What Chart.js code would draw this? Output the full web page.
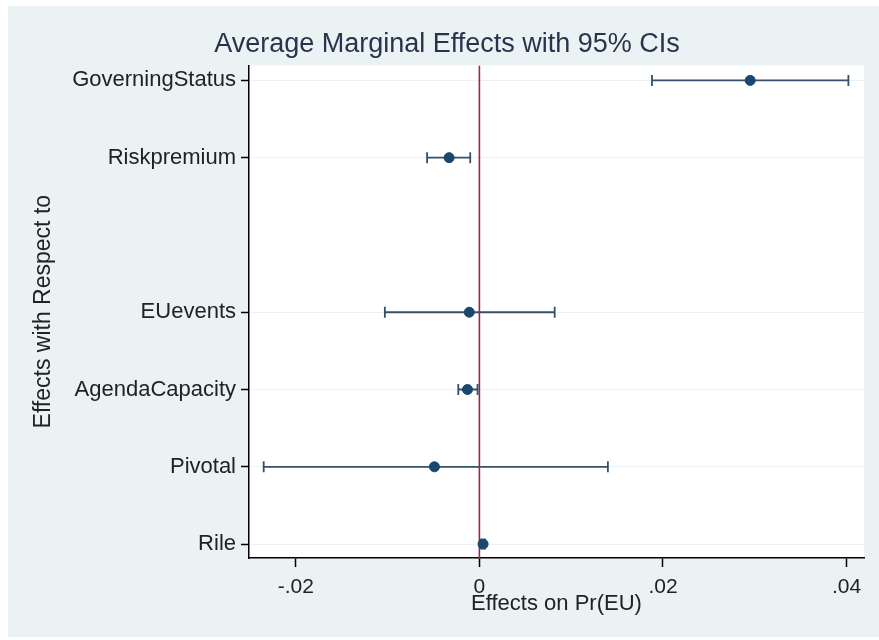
<!DOCTYPE html>
<html>
<head>
<meta charset="utf-8">
<script src="https://cdn.jsdelivr.net/npm/chart.js@4"></script>
<style>
  html, body { margin: 0; padding: 0; background: #fff; }
  #wrap { width: 879px; height: 640px; }
</style>
</head>
<body>
<div id="wrap"><canvas id="mfx"></canvas></div>
<script>
// marginal effects
const names = ['GoverningStatus', 'Riskpremium', 'EUevents', 'AgendaCapacity', 'Pivotal', 'Rile'];
const rowPos = [0, 1, 3, 4, 5, 6]; // row 2 is left empty
const effect = [0.0295, -0.0033, -0.0011, -0.0013, -0.0049, 0.0004];
const ciLow = [0.0188, -0.0057, -0.0103, -0.0023, -0.0235, 0.0002];
const ciHigh = [0.0402, -0.0010, 0.0082, -0.0002, 0.0140, 0.0006];
const xTicks = [-0.02, 0, 0.02, 0.04];

const navy = '#1a476f';
const ciColor = '#34506b';
const fontFam = '"Liberation Sans", Arial, sans-serif';

const yMin = -0.194, yMax = 6.18;

const datasets = [];
datasets.push({
    type: 'scatter',
    data: effect.map((v, i) => ({ x: v, y: rowPos[i] })),
    backgroundColor: navy,
    borderColor: navy,
    pointRadius: 5,
    pointHoverRadius: 5
});
names.forEach((n, i) => {
    datasets.push({
        type: 'line',
        data: [{ x: ciLow[i], y: rowPos[i] }, { x: ciHigh[i], y: rowPos[i] }],
        borderColor: ciColor,
        borderWidth: 1.8,
        pointStyle: 'line',
        rotation: 90,
        pointRadius: 5.5,
        pointBorderWidth: 1.8,
        pointBorderColor: ciColor
    });
});
// reference line at zero
datasets.push({
    type: 'line',
    data: [{ x: 0, y: yMin }, { x: 0, y: yMax }],
    borderColor: '#a3214c',
    borderWidth: 1.6,
    pointRadius: 0
});

const bgPlugin = {
    id: 'bg',
    beforeDraw(chart) {
        const c = chart.ctx, a = chart.chartArea;
        c.save();
        c.fillStyle = '#ffffff';
        c.fillRect(0, 0, chart.width, chart.height);
        c.fillStyle = '#eaf2f3';
        c.fillRect(8, 6, chart.width - 8, chart.height - 9);
        c.fillStyle = '#ffffff';
        c.fillRect(a.left, a.top, a.right - a.left, a.bottom - a.top);
        c.restore();
    }
};

function fmt(v) {
    if (v === 0) return '0';
    return String(v).replace('0.', '.');
}

new Chart(document.getElementById('mfx'), {
    data: { datasets: datasets },
    plugins: [bgPlugin],
    options: {
        responsive: true,
        maintainAspectRatio: false,
        animation: false,
        layout: { padding: { left: 30, right: 15, top: 0, bottom: 0 } },
        plugins: {
            legend: { display: false },
            tooltip: { enabled: false },
            title: {
                display: true,
                text: 'Average Marginal Effects with 95% CIs',
                color: '#27344c',
                font: { family: fontFam, size: 27, weight: 'normal' },
                padding: { top: 28, bottom: 5 }
            }
        },
        scales: {
            x: {
                type: 'linear',
                min: -0.0251,
                max: 0.0419,
                afterBuildTicks: s => { s.ticks = xTicks.map(v => ({ value: v })); },
                afterFit: s => { s.height = 82; },
                ticks: {
                    callback: v => fmt(v),
                    color: '#222',
                    font: { family: fontFam, size: 21 },
                    padding: 8,
                    maxRotation: 0
                },
                grid: { drawOnChartArea: false, tickLength: 9, tickColor: '#000', tickWidth: 1.5 },
                border: { color: '#000', width: 1.5 },
                title: {
                    display: true,
                    text: 'Effects on Pr(EU)',
                    color: '#222',
                    font: { family: fontFam, size: 22 },
                    padding: { top: 0, bottom: 23 }
                }
            },
            y: {
                type: 'linear',
                reverse: true,
                min: yMin,
                max: yMax,
                afterBuildTicks: s => { s.ticks = rowPos.map(v => ({ value: v })); },
                afterFit: s => { s.width = 219; },
                ticks: {
                    callback: v => names[rowPos.indexOf(v)],
                    color: '#222',
                    font: { family: fontFam, size: 22 },
                    padding: 5
                },
                grid: { color: '#edf1f4', lineWidth: 1, tickLength: 8, tickColor: '#000', tickWidth: 1.5 },
                border: { color: '#000', width: 1.5 },
                title: {
                    display: true,
                    text: 'Effects with Respect to',
                    color: '#222',
                    font: { family: fontFam, size: 23 },
                    padding: { top: 0, bottom: 0 }
                }
            }
        }
    }
});
</script>
</body>
</html>
